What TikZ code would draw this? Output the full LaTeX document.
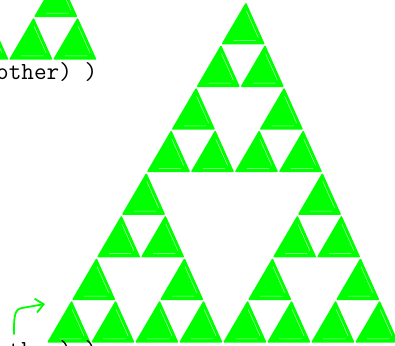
\documentclass[tikz,border=0pt]{standalone}
\usepackage{fontspec}
\usepackage{tikz}
\usetikzlibrary{arrows.meta}
\definecolor{sketchgreen}{RGB}{0,255,0}

\begin{document}
\begin{tikzpicture}[
  x=1pt, y=-1pt,
  tri/.style={fill=sketchgreen,draw=sketchgreen,line width=1.6pt,line join=round},
  streak/.style={draw=white,line width=0.5pt,opacity=0.7,line cap=round},
  note/.style={font=\fontsize{24.5}{29}\selectfont\ttfamily,inner sep=0pt,anchor=base west},
  sketcharrow/.style={-{Straight Barb[length=8pt,width=14pt]},draw=sketchgreen,line width=1.8pt,line cap=round,line join=round}
]
\useasboundingbox (0,0) rectangle (395,345);
\clip (0,0) rectangle (395,345);
\foreach \sx/\sy in {246/2,-56/-281}{
  \begin{scope}[shift={(\sx,\sy)},x={(44pt,0pt)},y={(-24.9pt,-42.6pt)}]
  \foreach \pa/\pb in {0/0,0/4,4/4}
  \foreach \qa/\qb in {0/0,0/2,2/2}
  \foreach \ra/\rb in {0/0,0/1,1/1}{
    \path[tri] ({\pa+\qa+\ra+1/3},{\pb+\qb+\rb+2/3}) +(-0.31,-0.62) -- +(-0.31,0.31) -- +(0.62,0.31) -- cycle;
    \path[streak] ({\pa+\qa+\ra+1/3},{\pb+\qb+\rb+2/3}) +(-0.2,-0.45) -- +(0.42,0.17) +(-0.1,0.24) -- +(0.4,0.24);
  }
  \end{scope}
}
\node[note] (topnote) at (-4,79) {other) )};
\node[note] (bottomnote) at (-4,357) {other) )};
\coordinate (arrowfoot) at (14,334);
\coordinate (arrowtip) at (45,304);
\draw[sketcharrow] (arrowfoot) .. controls (14,318) and (14,309) .. (22,308) -- (arrowtip);
\end{tikzpicture}
\end{document}
